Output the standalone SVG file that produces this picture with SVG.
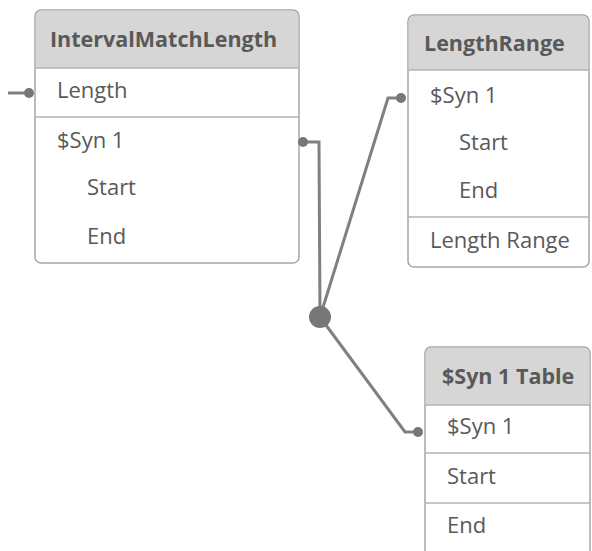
<svg xmlns="http://www.w3.org/2000/svg" width="592" height="551" viewBox="0 0 592 551">
<style>
.box{fill:#fff;stroke:#a6a6a6;stroke-width:1.5}
.hdr{fill:#d6d6d6}
.sep{stroke:#b3b3b3;stroke-width:1.5}
.ht{font-family:"Open Sans","Liberation Sans",sans-serif;font-weight:bold;font-size:21.5px;fill:#595959}
.ft{font-family:"Open Sans","Liberation Sans",sans-serif;font-size:22px;fill:#595959}
.con{fill:none;stroke:#808080;stroke-width:3}
.dot{fill:#777}
</style>
<rect width="592" height="551" fill="#fff"/>
<g id="IntervalMatchLength">
<rect class="box" x="35" y="10" width="264" height="253" rx="6"/>
<path class="hdr" d="M41,10.75 H293 A5.25,5.25 0 0 1 298.25,16 V68 H35.75 V16 A5.25,5.25 0 0 1 41,10.75 Z"/>
<line class="sep" x1="35" y1="68" x2="299" y2="68"/>
<line class="sep" x1="35" y1="117" x2="299" y2="117"/>
<text class="ht" x="50" y="47">IntervalMatchLength</text>
<text class="ft" x="57" y="98">Length</text>
<text class="ft" x="57" y="148">$Syn 1</text>
<text class="ft" x="87" y="195">Start</text>
<text class="ft" x="87" y="244">End</text>
</g>
<g id="LengthRange">
<rect class="box" x="408" y="15" width="181" height="252" rx="6"/>
<path class="hdr" d="M414,15.75 H583 A5.25,5.25 0 0 1 588.25,21 V70 H408.75 V21 A5.25,5.25 0 0 1 414,15.75 Z"/>
<line class="sep" x1="408" y1="70" x2="589" y2="70"/>
<line class="sep" x1="408" y1="217" x2="589" y2="217"/>
<text class="ht" x="424" y="51">LengthRange</text>
<text class="ft" x="430" y="103">$Syn 1</text>
<text class="ft" x="459" y="150">Start</text>
<text class="ft" x="459" y="198">End</text>
<text class="ft" x="430" y="248">Length Range</text>
</g>
<g id="Syn1Table">
<rect class="box" x="425" y="347" width="165" height="215" rx="6"/>
<path class="hdr" d="M431,347.75 H584 A5.25,5.25 0 0 1 589.25,353 V405 H425.75 V353 A5.25,5.25 0 0 1 431,347.75 Z"/>
<line class="sep" x1="425" y1="405" x2="590" y2="405"/>
<line class="sep" x1="425" y1="453" x2="590" y2="453"/>
<line class="sep" x1="425" y1="503" x2="590" y2="503"/>
<text class="ht" x="442" y="384">$Syn 1 Table</text>
<text class="ft" x="447" y="434">$Syn 1</text>
<text class="ft" x="447" y="484">Start</text>
<text class="ft" x="447" y="533">End</text>
</g>
<g id="connectors">
<line class="con" x1="8" y1="93" x2="28" y2="93"/>
<circle class="dot" cx="29" cy="93" r="5"/>
<polyline class="con" points="303,142 319,142 320,317"/>
<circle class="dot" cx="303" cy="142" r="5"/>
<polyline class="con" points="320,317 388,98 401,98"/>
<circle class="dot" cx="401" cy="98" r="5"/>
<polyline class="con" points="320,317 405,432 418,432"/>
<circle class="dot" cx="418" cy="432" r="5"/>
<circle class="dot" cx="320" cy="317" r="11"/>
</g>
</svg>
